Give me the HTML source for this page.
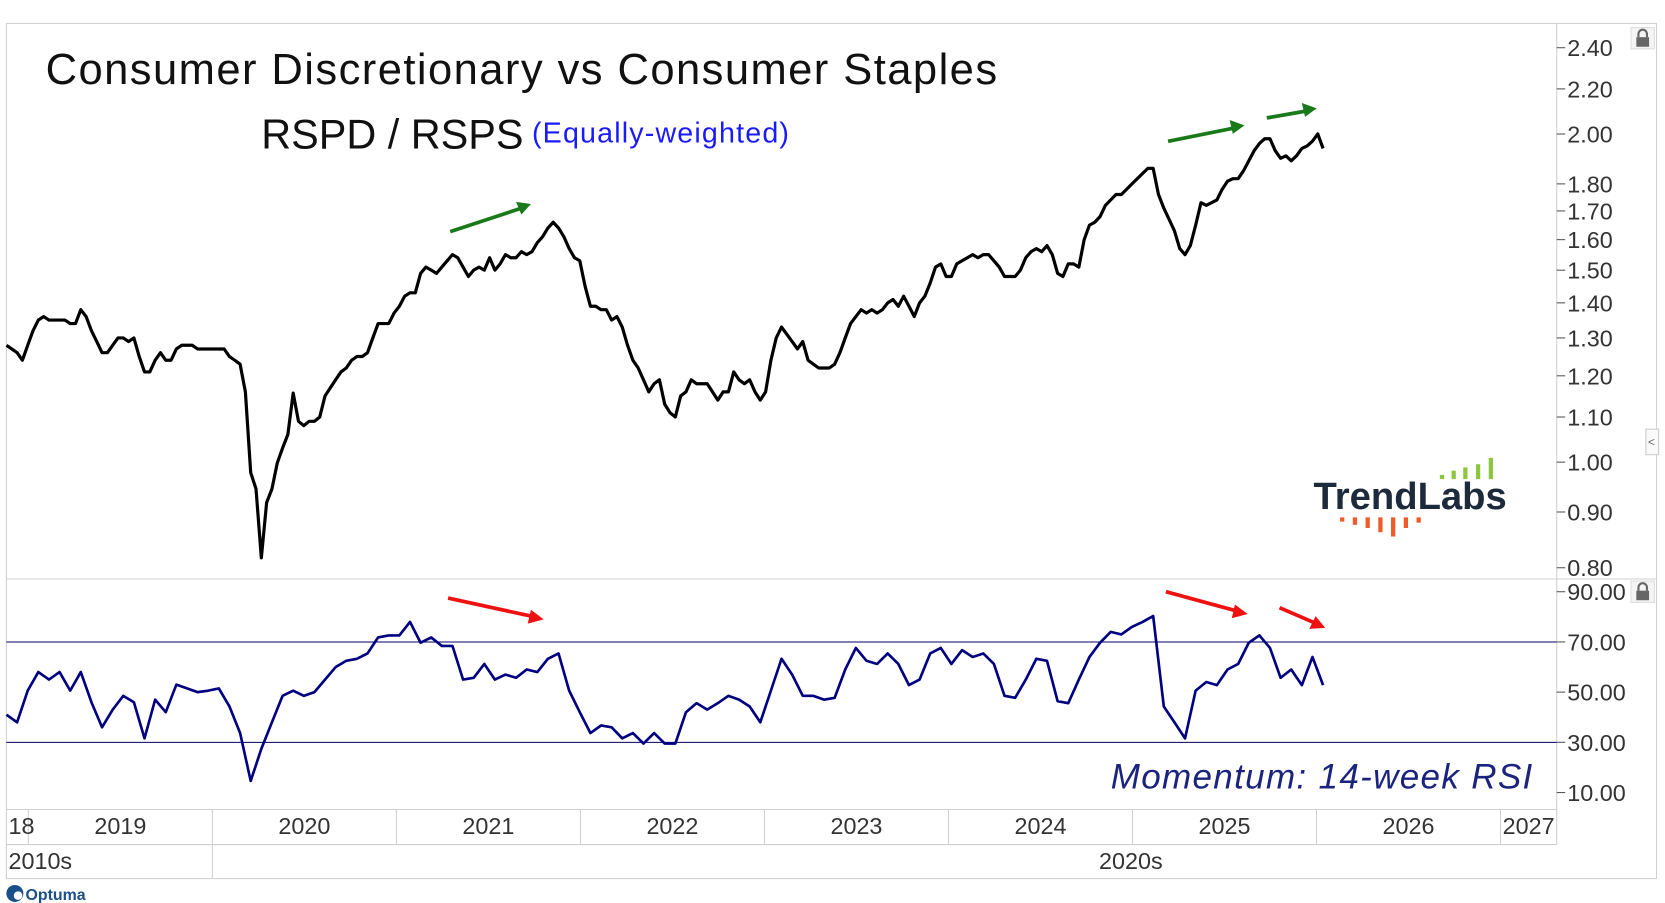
<!DOCTYPE html>
<html><head><meta charset="utf-8"><style>
html,body{margin:0;padding:0;background:#fff;}
svg{display:block;font-family:"Liberation Sans","DejaVu Sans",sans-serif;}
</style></head><body>
<svg id="chart" width="1665" height="903" viewBox="0 0 1568 850" preserveAspectRatio="none" xmlns="http://www.w3.org/2000/svg">
<g fill="none" stroke="#d0d0d0" stroke-width="1">
<rect x="6" y="22" width="1554" height="805"/>
<line x1="1466" y1="22" x2="1466" y2="795"/>
<line x1="6" y1="545" x2="1560" y2="545"/>
<line x1="6" y1="762" x2="1466" y2="762"/>
<line x1="6" y1="795" x2="1466" y2="795"/>
</g>
<g id="grid"></g>
<g id="price-axis"></g>
<g id="rsi-axis"></g>
<line x1="6" x2="1466" y1="604.3" y2="604.3" stroke="#000066" stroke-width="1"/>
<line x1="6" x2="1466" y1="698.8" y2="698.8" stroke="#000066" stroke-width="1"/>
<path id="price-line" fill="none" stroke="#000" stroke-width="3" stroke-linejoin="round"/>
<path id="rsi-line" fill="none" stroke="#000080" stroke-width="2.5" stroke-linejoin="round"/>
<text x="43" y="79" font-size="41" fill="#111" textLength="896">Consumer Discretionary vs Consumer Staples</text>
<text x="246" y="140" font-size="39" fill="#111">RSPD / RSPS</text>
<text x="501" y="134" font-size="27" fill="#1a1aff" textLength="242">(Equally-weighted)</text>
<text x="1046" y="742" font-size="33" font-style="italic" fill="#1a237e" textLength="397">Momentum: 14-week RSI</text>
<g>
<text x="1237" y="479" font-size="36" font-weight="bold" fill="#1c2a3c" textLength="182">TrendLabs</text>
<g fill="#8cc63f"><rect x="1356" y="447" width="4" height="4"/><rect x="1367" y="443" width="4" height="8"/><rect x="1378" y="440" width="4" height="11"/><rect x="1390" y="437" width="4" height="14"/><rect x="1402" y="431" width="4" height="20"/></g>
<g fill="#f05a28"><rect x="1262" y="487" width="4" height="4"/><rect x="1274" y="487" width="4" height="7"/><rect x="1286" y="487" width="4" height="10"/><rect x="1298" y="487" width="4" height="14"/><rect x="1310" y="487" width="4" height="18"/><rect x="1322" y="487" width="4" height="10"/><rect x="1334" y="487" width="4" height="5"/></g>
</g>
<defs>
<marker id="ag" markerWidth="8" markerHeight="8" refX="6" refY="4" orient="auto" markerUnits="userSpaceOnUse"><path d="M0,0 L12,4 L0,8 z" fill="#1a7a1a" transform="scale(0.7)"/></marker>
<marker id="ar" markerWidth="8" markerHeight="8" refX="6" refY="4" orient="auto" markerUnits="userSpaceOnUse"><path d="M0,0 L12,4 L0,8 z" fill="#ee1111" transform="scale(0.7)"/></marker>
</defs>
<g stroke="#1a7a1a" stroke-width="3.5">
<line x1="424" y1="218" x2="494" y2="195"/><polygon points="500,192 486,190 491,202" fill="#1a7a1a" stroke="none"/>
<line x1="1100" y1="133" x2="1165" y2="120"/><polygon points="1172,118 1158,113 1161,126" fill="#1a7a1a" stroke="none"/>
<line x1="1193" y1="111" x2="1233" y2="104"/><polygon points="1240,102 1226,97 1229,110" fill="#1a7a1a" stroke="none"/>
</g>
<g stroke="#ee1111" stroke-width="3.5">
<line x1="422" y1="563" x2="505" y2="581"/><polygon points="512,583 500,574 497,587" fill="#ee1111" stroke="none"/>
<line x1="1098" y1="557" x2="1168" y2="576"/><polygon points="1175,578 1163,569 1160,582" fill="#ee1111" stroke="none"/>
<line x1="1205" y1="572" x2="1242" y2="588"/><polygon points="1248,591 1239,580 1233,592" fill="#ee1111" stroke="none"/>
</g>
<g fill="#666">
<rect x="1536" y="26" width="22" height="20" fill="#f4f4f4" stroke="#ddd"/><rect x="1541" y="35" width="12" height="9"/><path d="M1543,35 v-3 a4,4 0 0 1 8,0 v3" fill="none" stroke="#666" stroke-width="2"/>
<rect x="1536" y="547" width="22" height="20" fill="#f4f4f4" stroke="#ddd"/><rect x="1541" y="556" width="12" height="9"/><path d="M1543,556 v-3 a4,4 0 0 1 8,0 v3" fill="none" stroke="#666" stroke-width="2"/>
</g>
<g><rect x="1550" y="404" width="12" height="24" fill="#fafafa" stroke="#ccc"/><text x="1552" y="420" font-size="11" fill="#666">&lt;</text></g>
<g id="year-labels" font-size="22" fill="#333"></g>
<text x="8" y="818" font-size="22" fill="#333">2010s</text>
<line x1="200" y1="795" x2="200" y2="827" stroke="#d0d0d0"/>
<text x="1065" y="818" font-size="22" fill="#333" text-anchor="middle">2020s</text>
<g><circle cx="14" cy="841" r="8" fill="#1b4f8a"/><circle cx="17" cy="843" r="4" fill="#fff"/><text x="24" y="847" font-size="15" font-weight="bold" fill="#1b4f8a">Optuma</text></g>
</svg>
<script>
const priceStart = 2018.881;
const priceStep = 0.02885;
const priceValues = [1.28,1.27,1.26,1.24,1.28,1.32,1.35,1.36,1.35,1.35,1.35,1.35,1.34,1.34,1.38,1.36,1.32,1.29,1.26,1.26,1.28,1.30,1.30,1.29,1.30,1.25,1.21,1.21,1.24,1.26,1.24,1.24,1.27,1.28,1.28,1.28,1.27,1.27,1.27,1.27,1.27,1.27,1.25,1.24,1.23,1.16,0.978,0.945,0.817,0.918,0.945,0.998,1.03,1.06,1.157,1.09,1.08,1.09,1.09,1.10,1.15,1.17,1.19,1.21,1.22,1.24,1.25,1.25,1.26,1.30,1.34,1.34,1.34,1.37,1.39,1.42,1.43,1.43,1.49,1.51,1.50,1.49,1.51,1.53,1.55,1.54,1.51,1.48,1.50,1.51,1.50,1.54,1.50,1.52,1.55,1.54,1.54,1.56,1.55,1.56,1.59,1.61,1.64,1.66,1.64,1.61,1.57,1.54,1.53,1.45,1.39,1.39,1.38,1.38,1.35,1.36,1.33,1.28,1.24,1.22,1.19,1.16,1.18,1.19,1.13,1.11,1.10,1.15,1.16,1.19,1.18,1.18,1.18,1.16,1.14,1.16,1.16,1.21,1.19,1.18,1.19,1.16,1.14,1.16,1.24,1.30,1.33,1.31,1.29,1.27,1.29,1.24,1.23,1.22,1.22,1.22,1.23,1.26,1.30,1.34,1.36,1.38,1.37,1.38,1.37,1.38,1.40,1.41,1.39,1.42,1.39,1.36,1.40,1.42,1.46,1.51,1.52,1.48,1.48,1.52,1.53,1.54,1.55,1.54,1.55,1.55,1.53,1.51,1.48,1.48,1.48,1.50,1.54,1.56,1.57,1.56,1.58,1.55,1.49,1.48,1.52,1.52,1.51,1.60,1.65,1.66,1.68,1.72,1.74,1.76,1.76,1.78,1.80,1.82,1.84,1.86,1.86,1.76,1.71,1.67,1.63,1.57,1.55,1.58,1.65,1.73,1.72,1.73,1.74,1.78,1.81,1.82,1.82,1.85,1.89,1.93,1.96,1.98,1.98,1.93,1.90,1.91,1.89,1.91,1.94,1.95,1.97,2.00,1.94];
const rsiStart = 2018.881;
const rsiStep = 0.0577;
const rsiValues = [41,38,50.6,58,55,58,50.6,58,46,36,43,48.5,46,31.6,47,42,53,51.5,50,50.6,51.5,44.3,33.7,14.6,27.4,38,48.5,50.6,48.5,50,55,60,62.5,63.3,65.4,71.8,72.6,72.6,78,69.7,71.8,68.4,68.4,55,55.7,61.2,55,57,55.7,59,58,63.3,65.4,50.6,42,33.7,36.7,36,31.6,33.7,29.5,33.7,29.5,29.5,42,45.6,43,45.6,48.5,47,44.3,38,50.6,63.3,57,48.5,48.5,47,47.7,59,67.6,62.5,61.2,65.4,61.2,52.8,55,65.4,67.6,61.2,66.7,64,65.4,61.2,48.5,47.7,55,63.3,62.5,46.4,45.6,55,64,69.7,74,73,76,78,80.3,44.3,38,31.6,50.6,54,52.8,59,61.2,69.7,72.6,67.6,55.7,59,52.8,64,52.8];
const priceTicks = [2.4,2.2,2.0,1.8,1.7,1.6,1.5,1.4,1.3,1.2,1.1,1.0,0.9,0.8];
const rsiTicks = [90,70,50,30,10];
const yearLabels = ["2019","2020","2021","2022","2023","2024","2025","2026","2027"];

const NS = "http://www.w3.org/2000/svg";
function xOf(t){ return 200 + (t - 2020) * 173.3; }
function yPrice(v){ return 435 - 1026 * Math.log10(v); }
function yRsi(v){ return 557 + (90 - v) * 2.3625; }
function mk(tag, attrs, parent){ const e = document.createElementNS(NS, tag); for (const k in attrs) e.setAttribute(k, attrs[k]); parent.appendChild(e); return e; }

let d = "";
priceValues.forEach((v,i)=>{ d += (i?"L":"M") + xOf(priceStart + i*priceStep).toFixed(1) + "," + yPrice(v).toFixed(1); });
document.getElementById("price-line").setAttribute("d", d);
d = "";
rsiValues.forEach((v,i)=>{ d += (i?"L":"M") + xOf(rsiStart + i*rsiStep).toFixed(1) + "," + yRsi(v).toFixed(1); });
document.getElementById("rsi-line").setAttribute("d", d);

const pa = document.getElementById("price-axis");
priceTicks.forEach(v=>{
  const y = yPrice(v);
  const l = mk("line",{x1:1466,x2:1474,y1:y,y2:y,stroke:"#555"},pa);
  
  
  const t = mk("text",{x:1476,y:y+8,"font-size":22,fill:"#333"},pa);
  
  
  t.textContent = v.toFixed(2);
});
const ra = document.getElementById("rsi-axis");
rsiTicks.forEach(v=>{
  const y = yRsi(v);
  const l = mk("line",{x1:1466,x2:1474,y1:y,y2:y,stroke:"#555"},ra);
  
  
  const t = mk("text",{x:1476,y:y+8,"font-size":22,fill:"#333"},ra);
  
  
  t.textContent = v.toFixed(2);
});
const g = document.getElementById("grid"), yl = document.getElementById("year-labels");
yearLabels.forEach(s=>{
  const yr = +s, x0 = xOf(yr), x1 = Math.min(xOf(yr+1), 1466);
  const l = mk("line",{x1:x0,x2:x0,y1:762,y2:795,stroke:"#d0d0d0"},g);
  
  
  const t = mk("text",{x:(x0+x1)/2,y:785,"text-anchor":"middle"},yl);
  
  
  t.textContent = s;
});
const t18 = mk("text",{x:8,y:785},yl);


t18.textContent = "18";
</script>
</body></html>
